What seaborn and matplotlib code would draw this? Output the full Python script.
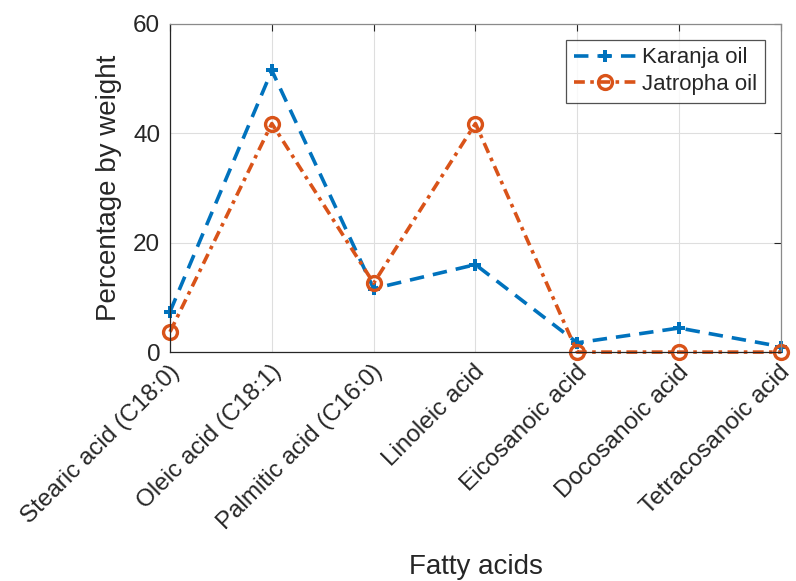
import pandas as pd
import seaborn as sns
import matplotlib.pyplot as plt
from matplotlib.transforms import ScaledTranslation


# ============================
# Data
# ============================

acids = [
    "Stearic acid (C18:0)",
    "Oleic acid (C18:1)",
    "Palmitic acid (C16:0)",
    "Linoleic acid",
    "Eicosanoic acid",
    "Docosanoic acid",
    "Tetracosanoic acid",
]

karanja = [7.4, 51.5, 11.6, 16.0, 1.7, 4.4, 1.0]
jatropha = [3.7, 41.8, 12.6, 41.8, 0.0, 0.0, 0.0]

df = pd.DataFrame({"acid": acids, "Karanja oil": karanja, "Jatropha oil": jatropha})
df["pos"] = range(len(acids))


# ============================
# Plot
# ============================

sns.set_style("whitegrid")
plt.rcParams["font.family"] = ["Liberation Sans", "DejaVu Sans"]

fig = plt.figure(figsize=(7.96, 5.81), dpi=100)
ax = fig.add_axes([0.2136, 0.394, 0.7674, 0.5647])

blue = "#0072BD"
orange = "#D95319"
dark = "#262626"

sns.lineplot(
    data=df, x="pos", y="Karanja oil", ax=ax,
    color=blue, linewidth=2.6, linestyle=(0, (4, 2.5)),
    marker="P", markersize=9, markeredgewidth=0,
    label="Karanja oil",
)
sns.lineplot(
    data=df, x="pos", y="Jatropha oil", ax=ax,
    color=orange, linewidth=2.6, linestyle=(0, (3, 1.5, 1, 1.5)),
    marker="o", markersize=10, markerfacecolor="none",
    markeredgecolor=orange, markeredgewidth=2.4,
    label="Jatropha oil",
)
for ln in ax.lines:
    ln.set_clip_on(False)

ax.set_xlim(0, len(acids) - 1)
ax.set_ylim(0, 60)
ax.set_yticks([0, 20, 40, 60])
ax.set_xticks(range(len(acids)))
ax.set_xticklabels(acids, rotation=45, ha="right", va="center",
                   rotation_mode="anchor", fontsize=17.5)
ax.tick_params(axis="y", labelsize=17.5, pad=7)
ax.tick_params(axis="both", direction="in", length=5, color=dark, colors=dark,
               top=True, right=True)
ax.tick_params(axis="x", pad=12)

# nudge rotated labels so their ends sit just right of the ticks
shift = ScaledTranslation(6 / 100, 0, fig.dpi_scale_trans)
for lab in ax.get_xticklabels():
    lab.set_transform(lab.get_transform() + shift)

ax.set_xlabel("Fatty acids", fontsize=20, color=dark, labelpad=14)
ax.set_ylabel("Percentage by weight", fontsize=20, color=dark, labelpad=8)

ax.grid(True, color="#dedede", linewidth=0.8)
for s in ax.spines.values():
    s.set_color(dark)
    s.set_linewidth(0.9)
ax.spines["top"].set_color("#8a8a8a")
ax.spines["right"].set_color("#8a8a8a")

leg = ax.legend(
    loc="upper right", fontsize=16, frameon=True, fancybox=False,
    edgecolor=dark, handlelength=2.8, handletextpad=0.3,
    borderaxespad=0.7, borderpad=0.35, labelspacing=0.25,
)
leg.get_frame().set_linewidth(0.9)
for t in leg.get_texts():
    t.set_color(dark)


# ============================
# Save
# ============================

fig.savefig("out.png", dpi=100)
print("saved out.png")
